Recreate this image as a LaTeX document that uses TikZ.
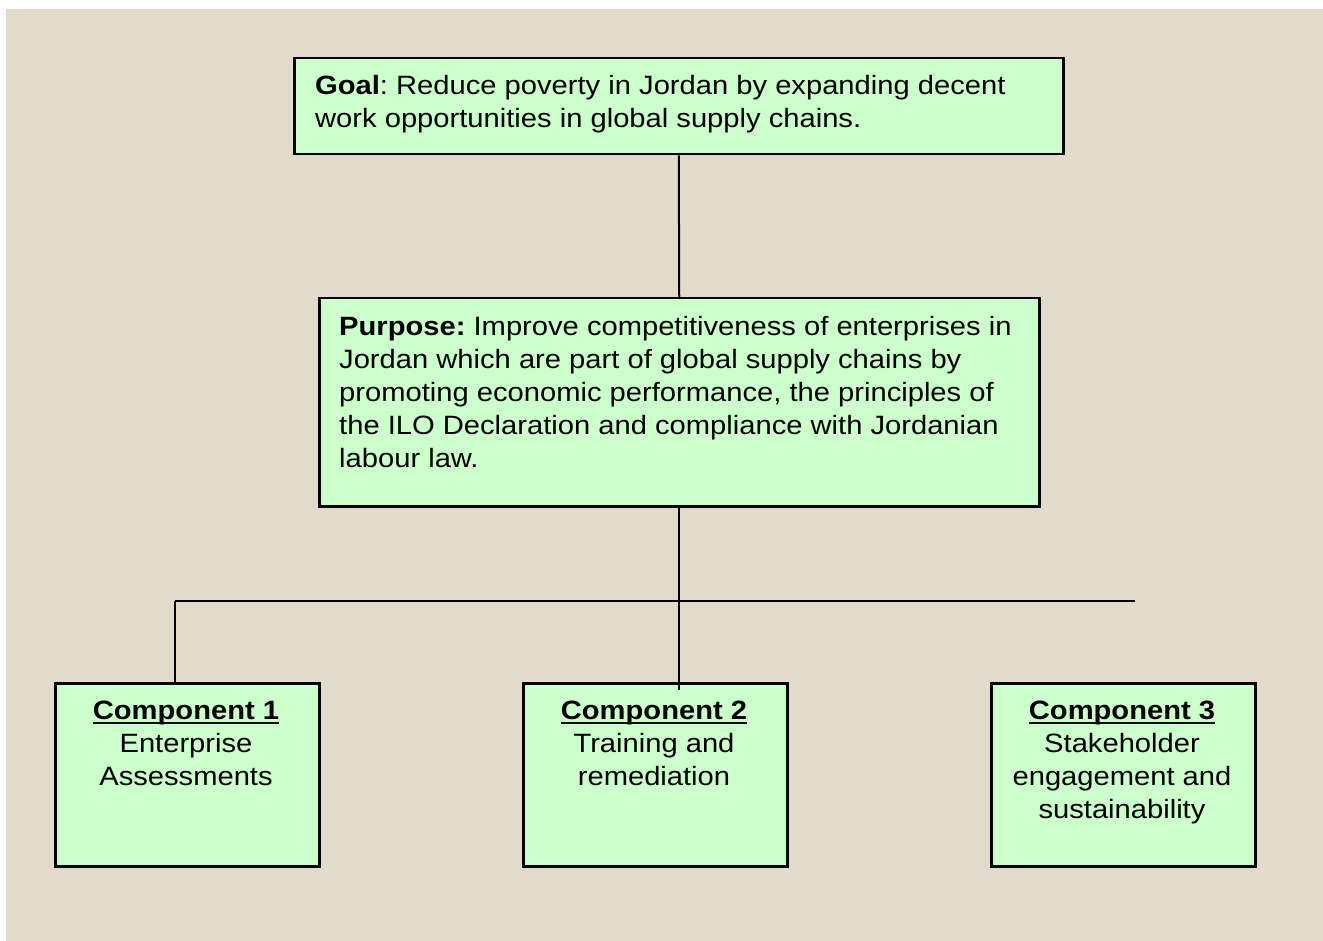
\documentclass[tikz,border=0pt]{standalone}
\usepackage{fontspec}
\setmainfont{Liberation Sans}[FakeStretch=1.1]
\frenchspacing
\definecolor{paper}{HTML}{E2DACB}
\definecolor{boxgreen}{HTML}{CCFFCC}
% heading underlined with a rule that runs through the descenders
\newcommand{\headul}[1]{\setbox0\hbox{\bfseries #1}\rlap{\rule[-5pt]{\wd0}{2pt}}\box0}
\tikzset{
  box/.style={draw=black, line width=2.5pt, fill=boxgreen, inner sep=0pt, anchor=north west},
  txt/.style={inner sep=0pt, font=\fontsize{26.5}{33}\selectfont},
  link/.style={draw=black, line width=2pt}
}
\begin{document}
\begin{tikzpicture}[x=1pt, y=-1pt]
  \useasboundingbox (0,0) rectangle (1323,941);
  \fill[paper] (6,9) rectangle (1324,942);

  % boxes
  \node[box, minimum width=769pt, minimum height=96pt] (goal) at (293,57) {};
  \node[box, minimum width=720pt, minimum height=208pt] (purpose) at (318,297) {};
  \node[box, minimum width=264pt, minimum height=183pt] (comp1) at (54,682) {};
  \node[box, minimum width=264pt, minimum height=183pt] (comp2) at (522,682) {};
  \node[box, minimum width=264pt, minimum height=183pt] (comp3) at (990,682) {};

  % texts (anchored at the baseline of their last line)
  \node[txt, anchor=base west, align=left] (goaltext) at (315,128)
    {\textbf{Goal}: Reduce poverty in Jordan by expanding decent\\
     work opportunities in global supply chains.};
  \node[txt, anchor=base west, align=left] (purposetext) at (339,467)
    {\textbf{Purpose:} Improve competitiveness of enterprises in\\
     Jordan which are part of global supply chains by\\
     promoting economic performance, the principles of\\
     the ILO Declaration and compliance with Jordanian\\
     labour law.};
  \node[txt, anchor=base, align=center] (c1text) at (186,785)
    {\headul{Component 1}\\Enterprise\\Assessments};
  \node[txt, anchor=base, align=center] (c2text) at (654,785)
    {\headul{Component 2}\\Training and\\remediation};
  \node[txt, anchor=base, align=center] (c3text) at (1122,818)
    {\headul{Component 3}\\Stakeholder\\engagement and\\sustainability};

  % connectors
  \coordinate (barL) at (175,601);
  \coordinate (barR) at (1135,601);
  \coordinate (stem) at (678,690);
  \draw[link] (goal.south) -- (purpose.north);
  \draw[link] (purpose.south) -- (purpose.south |- stem);
  \draw[link] (barL) -- (barR);
  \draw[link] (barL) -- (barL |- comp1.north);
\end{tikzpicture}
\end{document}
